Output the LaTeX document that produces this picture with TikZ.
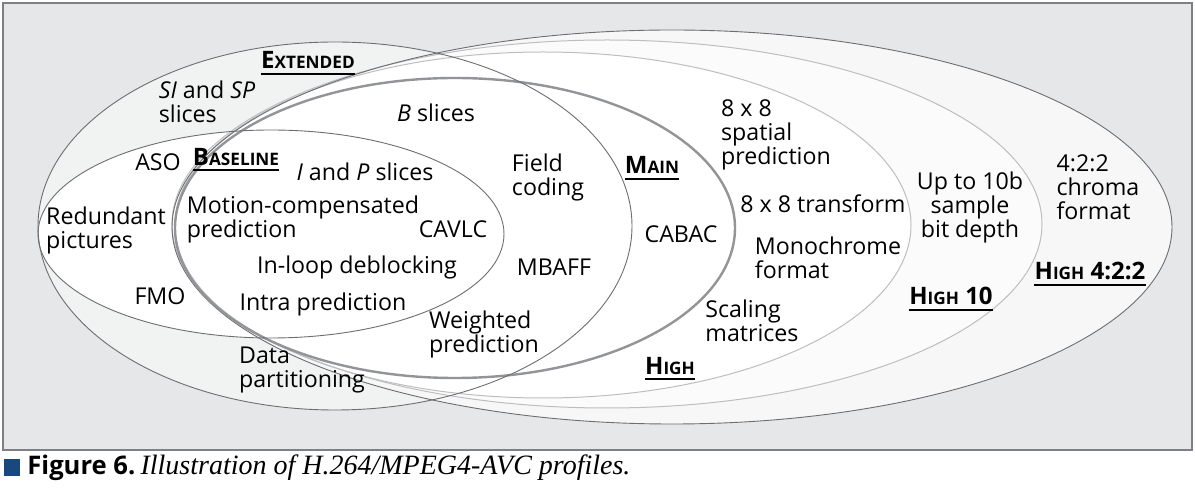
\documentclass[tikz,border=0pt]{standalone}
\usepackage{fontspec}
\setmainfont{Open Sans}
\newfontfamily\capserif{Liberation Serif}
\definecolor{bg}{HTML}{E6E7E8}
\definecolor{extfill}{HTML}{F1F2F2}
\definecolor{hfourfill}{HTML}{F7F7F7}
\definecolor{htenfill}{HTML}{FBFBFB}
\definecolor{dline}{HTML}{6D6E71}
\definecolor{lline}{HTML}{BDBEC0}
\definecolor{mline}{HTML}{939497}
\definecolor{framecol}{HTML}{7F8083}
\definecolor{capblue}{HTML}{17497F}
\newcommand\plab[2]{\textbf{{\fontsize{12}{13}\selectfont #1}{\fontsize{8.6}{13}\selectfont #2}}}
\begin{document}
\begin{tikzpicture}[x=0.5pt,y=-0.5pt,
  txt/.style={font=\fontsize{11.6}{12}\selectfont, inner sep=0pt, text=black},
  tl/.style={txt, align=left},
  tc/.style={txt, align=center},
  plabel/.style={inner sep=0pt, text=black},
  ulrule/.style={line width=1pt, black},
  thinline/.style={draw=dline, line width=0.45pt},
  lightline/.style={draw=lline, line width=0.5pt},
  mainline/.style={draw=mline, line width=1.2pt}]
\useasboundingbox (0,0) rectangle (1195,491);
% frame
\draw[fill=bg, draw=framecol, line width=0.6pt] (3,3) rectangle (1192,450);
% fills
\fill[extfill] (335,226) ellipse [x radius=148.5pt, y radius=92pt];
\fill[hfourfill] (672,227) ellipse [x radius=250pt, y radius=98.5pt];
\fill[htenfill] (607,224) ellipse [x radius=217.5pt, y radius=92pt];
\fill[white] (543,225) ellipse [x radius=184pt, y radius=86.5pt];
\fill[white] (455,228) ellipse [x radius=140pt, y radius=75pt];
\fill[white] (271,234) ellipse [x radius=116.5pt, y radius=52pt];
% outlines
\draw[lightline] (543,225) ellipse [x radius=184pt, y radius=86.5pt];
\draw[lightline] (607,224) ellipse [x radius=217.5pt, y radius=92pt];
\draw[thinline] (672,227) ellipse [x radius=250pt, y radius=98.5pt];
\draw[mainline] (455,228) ellipse [x radius=140pt, y radius=75pt];
\draw[thinline] (335,226) ellipse [x radius=148.5pt, y radius=92pt];
\draw[thinline] (271,234) ellipse [x radius=116.5pt, y radius=52pt];
% profile labels
\node[plabel] (extl) at (308,60) {\plab{E}{XTENDED}};
\node[plabel] (basel) at (236,157) {\plab{B}{ASELINE}};
\node[plabel] (mainl) at (652,165) {\plab{M}{AIN}};
\node[plabel] (highl) at (670,366) {\plab{H}{IGH}};
\node[plabel] (htenl) at (951,296) {\plab{H}{IGH}\textbf{\fontsize{12}{13}\selectfont\ 10}};
\node[plabel] (hfourl) at (1090,271) {\plab{H}{IGH}\textbf{\fontsize{12}{13}\selectfont\ 4:2:2}};
\foreach \n in {extl,basel,mainl,highl,htenl,hfourl}
  \draw[ulrule] ([yshift=-2.5pt]\n.base west) -- ([yshift=-2.5pt]\n.base east);
% feature texts
\node[tl] (sisp) at (207,102) {\textit{SI} and \textit{SP}\\slices};
\node[txt] (bsl) at (436,113) {\textit{B} slices};
\node[txt] (aso) at (158,162) {ASO};
\node[txt] (ipsl) at (365,172) {\textit{I} and \textit{P} slices};
\node[tl] (field) at (548,177) {Field\\coding};
\node[tl] (sp8) at (776,135) {8 x 8\\spatial\\prediction};
\node[tl] (chroma) at (1098,187) {4:2:2\\chroma\\format};
\node[tc] (upten) at (970,207) {Up to 10b\\sample\\bit depth};
\node[txt] (tr8) at (823,204) {8 x 8 transform};
\node[tl] (red) at (106,230) {Redundant\\pictures};
\node[tl] (mc) at (303,219) {Motion-compensated\\prediction};
\node[txt] (cavlc) at (453,229) {CAVLC};
\node[txt] (cabac) at (681,234) {CABAC};
\node[tl] (mono) at (828,258) {Monochrome\\format};
\node[txt] (deblock) at (357,267) {In-loop deblocking};
\node[txt] (mbaff) at (554,267) {MBAFF};
\node[txt] (fmo) at (160,296) {FMO};
\node[txt] (intra) at (323,304) {Intra prediction};
\node[tl] (scal) at (752,321) {Scaling\\matrices};
\node[tl] (wp) at (484,334) {Weighted\\prediction};
\node[tl] (dp) at (302,370) {Data\\partitioning};
% caption
\fill[capblue] (4,459) rectangle (20,476);
\node[anchor=west, inner sep=0pt, text=black] (cap) at (27,468)
  {{\fontsize{12.8}{14}\selectfont\bfseries Figure 6.}\ {\capserif\itshape\fontsize{14}{15}\selectfont Illustration of H.264/MPEG4-AVC profiles.}};
\end{tikzpicture}
\end{document}
